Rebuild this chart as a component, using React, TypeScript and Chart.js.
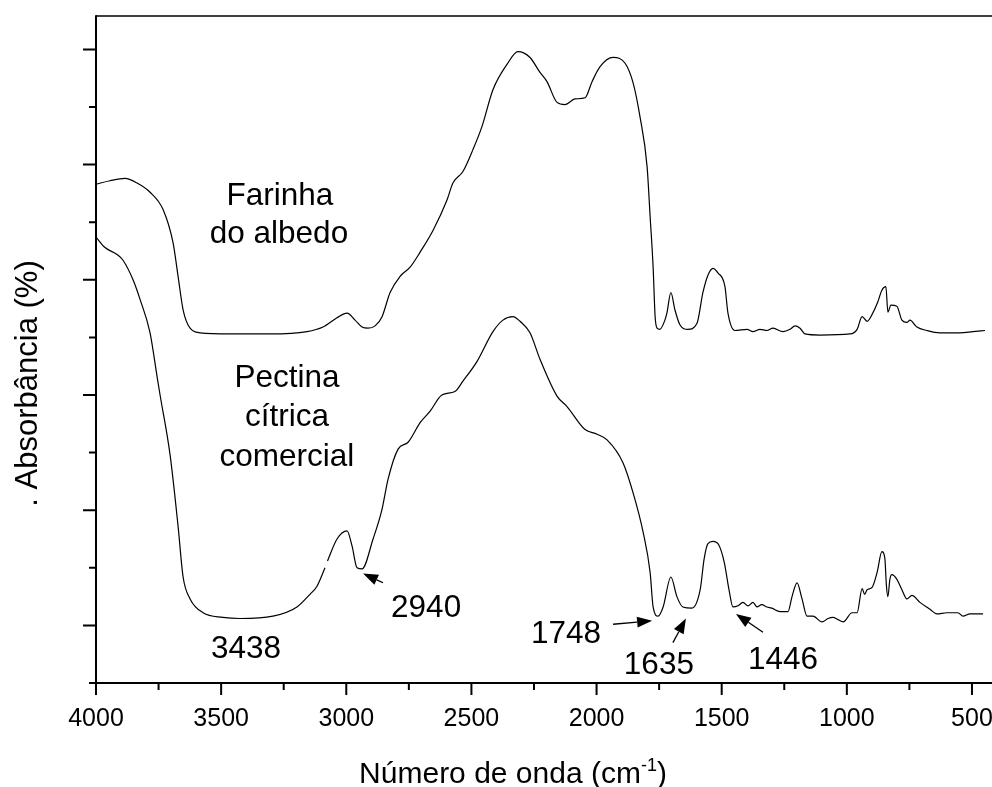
import React, { useEffect, useRef } from 'react';
import { Chart, registerables } from 'chart.js';

Chart.register(...registerables);

const FONT = '"Liberation Sans", Arial, Helvetica, sans-serif';

// Farinha do albedo spectrum (wavenumber cm-1, absorbance arbitrary units)
const farinhaWn = [4000, 3944, 3884, 3836, 3784, 3732, 3692, 3672, 3652, 3624, 3584, 3465, 3305, 3157, 3093, 3037, 2997, 2965, 2937, 2913, 2885, 2857, 2825, 2785, 2745, 2705, 2653, 2598, 2574, 2534, 2494, 2458, 2414, 2358, 2314, 2266, 2226, 2198, 2158, 2126, 2086, 2046, 2018, 1986, 1934, 1886, 1854, 1826, 1798, 1786, 1774, 1766, 1758, 1747, 1727, 1719, 1703, 1687, 1667, 1635, 1599, 1575, 1555, 1535, 1515, 1487, 1475, 1447, 1399, 1375, 1347, 1319, 1295, 1255, 1227, 1207, 1187, 1167, 1107, 987, 959, 939, 919, 899, 876, 860, 844, 836, 824, 800, 780, 760, 748, 720, 680, 628, 548, 496, 448];
const farinhaAbs = [3.83, 3.86, 3.88, 3.84, 3.76, 3.61, 3.32, 3.03, 2.74, 2.58, 2.54, 2.53, 2.53, 2.55, 2.59, 2.67, 2.71, 2.65, 2.59, 2.58, 2.6, 2.68, 2.89, 3.03, 3.11, 3.24, 3.43, 3.69, 3.84, 3.94, 4.13, 4.33, 4.65, 4.87, 4.98, 4.93, 4.8, 4.72, 4.54, 4.52, 4.57, 4.58, 4.72, 4.85, 4.93, 4.88, 4.71, 4.41, 3.98, 3.55, 3.11, 2.68, 2.58, 2.57, 2.65, 2.71, 2.89, 2.74, 2.61, 2.57, 2.62, 2.89, 3.04, 3.1, 3.06, 2.94, 2.71, 2.56, 2.57, 2.55, 2.57, 2.56, 2.58, 2.55, 2.57, 2.6, 2.58, 2.53, 2.52, 2.53, 2.57, 2.68, 2.64, 2.7, 2.81, 2.91, 2.94, 2.72, 2.78, 2.77, 2.65, 2.63, 2.65, 2.59, 2.56, 2.54, 2.54, 2.55, 2.56];

// Pectina cítrica comercial spectrum (null = small break in the trace)
const pectinaWn = [4000, 3964, 3916, 3892, 3852, 3824, 3784, 3756, 3744, 3704, 3672, 3652, 3624, 3572, 3493, 3425, 3293, 3197, 3145, 3117, 3085, 3080, 3075, 3037, 2997, 2977, 2957, 2937, 2893, 2857, 2833, 2793, 2753, 2705, 2665, 2618, 2566, 2534, 2478, 2414, 2374, 2334, 2306, 2266, 2226, 2158, 2118, 2046, 1998, 1958, 1894, 1854, 1814, 1786, 1774, 1754, 1734, 1703, 1679, 1655, 1619, 1586, 1570, 1555, 1535, 1512, 1490, 1470, 1455, 1435, 1415, 1395, 1375, 1359, 1340, 1319, 1300, 1267, 1235, 1219, 1199, 1179, 1159, 1135, 1099, 1075, 1055, 1035, 1015, 979, 959, 939, 929, 919, 899, 879, 860, 848, 842, 836, 828, 820, 800, 780, 760, 740, 708, 668, 640, 600, 556, 536, 508, 456];
const pectinaAbs = [3.37, 3.28, 3.22, 3.17, 3.0, 2.83, 2.54, 2.16, 2.0, 1.48, 0.86, 0.42, 0.23, 0.11, 0.07, 0.06, 0.08, 0.16, 0.27, 0.34, 0.5, null, 0.56, 0.75, 0.82, 0.69, 0.5, 0.49, 0.75, 1.01, 1.27, 1.53, 1.59, 1.76, 1.86, 2.0, 2.03, 2.12, 2.29, 2.55, 2.65, 2.68, 2.64, 2.54, 2.31, 1.99, 1.9, 1.7, 1.66, 1.61, 1.41, 1.15, 0.81, 0.46, 0.16, 0.08, 0.16, 0.42, 0.25, 0.16, 0.15, 0.31, 0.58, 0.71, 0.73, 0.7, 0.55, 0.3, 0.16, 0.17, 0.2, 0.17, 0.2, 0.16, 0.18, 0.16, 0.15, 0.12, 0.12, 0.25, 0.37, 0.23, 0.08, 0.08, 0.03, 0.06, 0.07, 0.05, 0.03, 0.11, 0.11, 0.32, 0.27, 0.31, 0.33, 0.46, 0.64, 0.58, 0.35, 0.25, 0.4, 0.44, 0.4, 0.31, 0.23, 0.26, 0.2, 0.14, 0.1, 0.11, 0.11, 0.08, 0.1, 0.1];

// Axis ticks
const xMajorTicks = [4000, 3500, 3000, 2500, 2000, 1500, 1000, 500];
const xMinorTicks = [3750, 3250, 2750, 2250, 1750, 1250, 750];
const yMajorTicks = [0, 1, 2, 3, 4, 5];
const yMinorTicks = [-0.5, 0.5, 1.5, 2.5, 3.5, 4.5];

// Text annotations (baseline position in data units)
const noteTexts = ['Farinha', 'do albedo', 'Pectina', 'cítrica', 'comercial', '3438', '2940', '1748', '1635', '1446'];
const noteWn = [3265, 3269, 3237, 3237, 3237, 3401, 2681, 2122, 1751, 1255];
const noteAbs = [3.65, 3.32, 2.07, 1.73, 1.38, -0.28, 0.07, -0.15, -0.42, -0.38];

// Arrows (tail -> tip in data units)
const arrowFromWn = [2853, 1934, 1695, 1335];
const arrowFromAbs = [0.37, 0.01, -0.15, -0.06];
const arrowToWn = [2933, 1778, 1643, 1443];
const arrowToAbs = [0.45, 0.04, 0.06, 0.1];

const xTitle = 'Número de onda (cm';
const xTitleSup = '-1';
const yTitle = '. Absorbância (%)';

const framePlugin = {
  id: 'framePlugin',
  afterDatasetsDraw(chart: any) {
    const ctx = chart.ctx;
    const xs = chart.scales.x;
    const ys = chart.scales.y;
    const { left, right, top, bottom } = chart.chartArea;
    ctx.save();
    ctx.strokeStyle = '#000';
    ctx.fillStyle = '#000';
    // top frame line
    ctx.lineWidth = 1.4;
    ctx.beginPath();
    ctx.moveTo(left, top);
    ctx.lineTo(right, top);
    ctx.stroke();
    // axis lines
    ctx.lineWidth = 2;
    ctx.beginPath();
    ctx.moveTo(left, top - 0.7);
    ctx.lineTo(left, bottom + 1);
    ctx.moveTo(left - 1, bottom);
    ctx.lineTo(right, bottom);
    ctx.stroke();
    // x ticks
    ctx.beginPath();
    xMajorTicks.forEach((v) => {
      const px = xs.getPixelForValue(v);
      ctx.moveTo(px, bottom);
      ctx.lineTo(px, bottom + 12);
    });
    xMinorTicks.forEach((v) => {
      const px = xs.getPixelForValue(v);
      ctx.moveTo(px, bottom);
      ctx.lineTo(px, bottom + 7);
    });
    // y ticks
    yMajorTicks.forEach((v) => {
      const py = ys.getPixelForValue(v);
      ctx.moveTo(left, py);
      ctx.lineTo(left - 13, py);
    });
    yMinorTicks.forEach((v) => {
      const py = ys.getPixelForValue(v);
      ctx.moveTo(left, py);
      ctx.lineTo(left - 7, py);
    });
    ctx.stroke();

    // annotations
    ctx.font = `31.5px ${FONT}`;
    ctx.textAlign = 'center';
    ctx.textBaseline = 'alphabetic';
    noteTexts.forEach((t, i) => {
      ctx.fillText(t, xs.getPixelForValue(noteWn[i]), ys.getPixelForValue(noteAbs[i]));
    });

    // arrows
    ctx.lineWidth = 1.3;
    arrowFromWn.forEach((_, i) => {
      const x1 = xs.getPixelForValue(arrowFromWn[i]);
      const y1 = ys.getPixelForValue(arrowFromAbs[i]);
      const x2 = xs.getPixelForValue(arrowToWn[i]);
      const y2 = ys.getPixelForValue(arrowToAbs[i]);
      const ang = Math.atan2(y2 - y1, x2 - x1);
      const hl = 15;
      const hw = 5.5;
      const bx = x2 - hl * Math.cos(ang);
      const by = y2 - hl * Math.sin(ang);
      ctx.beginPath();
      ctx.moveTo(x1, y1);
      ctx.lineTo(bx, by);
      ctx.stroke();
      ctx.beginPath();
      ctx.moveTo(x2, y2);
      ctx.lineTo(bx + hw * Math.sin(ang), by - hw * Math.cos(ang));
      ctx.lineTo(bx - hw * Math.sin(ang), by + hw * Math.cos(ang));
      ctx.closePath();
      ctx.fill();
    });

    // x title with superscript
    const mainFont = `30px ${FONT}`;
    const supFont = `18px ${FONT}`;
    ctx.font = mainFont;
    const w1 = ctx.measureText(xTitle).width;
    const w3 = ctx.measureText(')').width;
    ctx.font = supFont;
    const w2 = ctx.measureText(xTitleSup).width;
    const total = w1 + w2 + w3;
    const cx = left + 417;
    const by0 = bottom + 100;
    let x0 = cx - total / 2;
    ctx.textAlign = 'left';
    ctx.font = mainFont;
    ctx.fillText(xTitle, x0, by0);
    x0 += w1;
    ctx.font = supFont;
    ctx.fillText(xTitleSup, x0, by0 - 12);
    x0 += w2;
    ctx.font = mainFont;
    ctx.fillText(')', x0, by0);

    // y title (rotated)
    ctx.save();
    ctx.translate(left - 59, ys.getPixelForValue(2.1));
    ctx.rotate(-Math.PI / 2);
    ctx.font = `31px ${FONT}`;
    ctx.textAlign = 'center';
    ctx.fillText(yTitle, 0, 0);
    ctx.restore();

    ctx.restore();
  },
};

export default function App() {
  const canvasRef = useRef<HTMLCanvasElement | null>(null);

  useEffect(() => {
    if (!canvasRef.current) return;
    const farinha = farinhaWn.map((x, i) => ({ x, y: farinhaAbs[i] }));
    const pectina = pectinaWn.map((x, i) => ({ x, y: pectinaAbs[i] }));
    const chart = new Chart(canvasRef.current, {
      type: 'line',
      data: {
        datasets: [
          {
            label: 'Farinha do albedo',
            data: farinha,
            borderColor: '#000',
            borderWidth: 1.2,
            pointRadius: 0,
            cubicInterpolationMode: 'monotone',
            fill: false,
            spanGaps: false,
          },
          {
            label: 'Pectina cítrica comercial',
            data: pectina as any,
            borderColor: '#000',
            borderWidth: 1.2,
            pointRadius: 0,
            cubicInterpolationMode: 'monotone',
            fill: false,
            spanGaps: false,
          },
        ],
      },
      options: {
        animation: false,
        responsive: false,
        events: [],
        layout: { padding: { left: 96, top: 16, right: 0, bottom: 0 } },
        plugins: {
          legend: { display: false },
          tooltip: { enabled: false },
          title: { display: false },
        },
        scales: {
          x: {
            type: 'linear',
            reverse: true,
            min: 420,
            max: 4000,
            grid: { display: false, drawTicks: false },
            border: { display: false },
            afterBuildTicks: (scale: any) => {
              scale.ticks = xMajorTicks.map((v) => ({ value: v }));
            },
            ticks: {
              autoSkip: false,
              maxRotation: 0,
              minRotation: 0,
              color: '#000',
              padding: 21,
              font: { family: FONT, size: 25 },
              callback: (v: any) => String(v),
            },
            afterFit: (scale: any) => {
              scale.height = 104;
              scale.paddingLeft = 0;
              scale.paddingRight = 0;
            },
          },
          y: {
            type: 'linear',
            display: false,
            min: -0.5,
            max: 5.29,
          },
        },
      },
      plugins: [framePlugin],
    });
    return () => chart.destroy();
  }, []);

  return (
    <div style={{ position: 'fixed', left: 0, top: 0, width: 992, height: 787, background: '#fff' }}>
      <canvas ref={canvasRef} width={992} height={787} style={{ display: 'block' }} />
    </div>
  );
}
